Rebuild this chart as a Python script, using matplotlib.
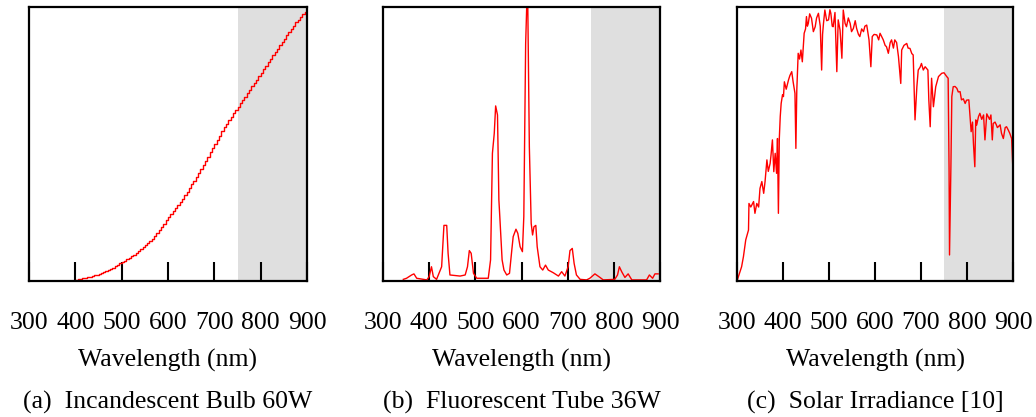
import numpy as np
from matplotlib import pyplot as plt

plt.rcParams['font.family'] = ['Liberation Serif', 'DejaVu Serif']

# incandescent bulb, relative power every 5 nm from 395 nm
bulb_nm = np.arange(395, 901, 5)
bulb_val = [0.0, 0.004, 0.006, 0.008, 0.010, 0.012, 0.014, 0.016, 0.018, 0.021,
            0.023, 0.026, 0.029, 0.032, 0.036, 0.040, 0.044, 0.049, 0.054, 0.059,
            0.064, 0.068, 0.073, 0.079, 0.085, 0.090, 0.096, 0.102, 0.109, 0.116,
            0.123, 0.130, 0.138, 0.146, 0.155, 0.165, 0.175, 0.185, 0.196, 0.208,
            0.221, 0.234, 0.246, 0.257, 0.268, 0.279, 0.290, 0.301, 0.313, 0.326,
            0.339, 0.353, 0.366, 0.380, 0.393, 0.407, 0.422, 0.438, 0.454, 0.470,
            0.485, 0.500, 0.515, 0.530, 0.546, 0.561, 0.574, 0.587, 0.599, 0.612,
            0.624, 0.636, 0.648, 0.661, 0.673, 0.686, 0.698, 0.711, 0.723, 0.735,
            0.748, 0.760, 0.773, 0.786, 0.799, 0.811, 0.823, 0.836, 0.848, 0.860,
            0.872, 0.884, 0.896, 0.908, 0.920, 0.932, 0.944, 0.954, 0.964, 0.973,
            0.982, 0.990]

# fluorescent tube
tube_nm = [344, 351, 362, 367, 373, 395, 400, 405, 409, 416, 427, 432, 438, 441, 445, 467,
           478, 483, 487, 491, 496, 503, 528, 533, 537, 541, 544, 548, 551, 553, 558, 562,
           568, 574, 579, 582, 588, 592, 597, 602, 605, 609, 613, 617, 621, 624, 627, 631,
           634, 640, 646, 652, 658, 669, 680, 687, 694, 701, 705, 710, 714, 719, 727, 741,
           748, 759, 770, 777, 802, 808, 812, 817, 824, 831, 839, 871, 877, 884, 889, 896]
tube_val = [0.006, 0.01, 0.022, 0.026, 0.01, 0.004, 0.016, 0.052, 0.016, 0.006, 0.052, 0.203,
            0.203, 0.101, 0.022, 0.018, 0.022, 0.052, 0.111, 0.101, 0.028, 0.01, 0.01, 0.077,
            0.466, 0.539, 0.639, 0.606, 0.296, 0.235, 0.077, 0.04, 0.022, 0.028, 0.113, 0.162,
            0.189, 0.174, 0.125, 0.107, 0.235, 0.867, 1.1, 0.49, 0.21, 0.168, 0.198, 0.203,
            0.125, 0.052, 0.04, 0.058, 0.04, 0.03, 0.018, 0.034, 0.018, 0.052, 0.111, 0.119,
            0.064, 0.022, 0.006, 0.004, 0.01, 0.026, 0.013, 0.004, 0.006, 0.022, 0.052, 0.034,
            0.013, 0.026, 0.004, 0.004, 0.022, 0.01, 0.026, 0.026]

# solar irradiance
sun_nm = [300, 303, 310, 314, 319, 325, 326, 330, 336, 339,
          343, 347, 350, 354, 358, 361, 365, 368, 372, 374,
          377, 380, 383, 386, 388, 390, 392, 394, 396, 399,
          401, 403, 407, 412, 415, 419, 422, 426, 428, 430,
          432, 433, 436, 439, 442, 446, 449, 451, 453, 455,
          458, 462, 466, 470, 473, 477, 481, 484, 486, 488,
          491, 495, 499, 502, 504, 507, 509, 513, 517, 520,
          524, 528, 531, 535, 538, 542, 546, 549, 553, 557,
          560, 564, 567, 571, 575, 578, 582, 587, 591, 594,
          598, 604, 608, 611, 615, 618, 622, 625, 629, 633,
          636, 640, 643, 647, 651, 656, 658, 663, 669, 672,
          676, 680, 683, 687, 691, 694, 698, 701, 705, 709,
          715, 717, 720, 723, 727, 732, 738, 745, 750, 756,
          759, 761, 762, 765, 767, 770, 774, 778, 781, 785,
          788, 792, 796, 799, 804, 809, 812, 814, 817, 819,
          821, 825, 828, 832, 836, 839, 843, 846, 849, 852,
          855, 857, 861, 864, 866, 868, 872, 875, 879, 883,
          886, 890, 893, 897, 900]
sun_val = [0.0, 0.016, 0.052, 0.089, 0.15, 0.186, 0.283, 0.27, 0.29, 0.247,
           0.283, 0.27, 0.338, 0.363, 0.32, 0.363, 0.442, 0.4, 0.429, 0.46,
           0.515, 0.399, 0.466, 0.393, 0.52, 0.247, 0.521, 0.6, 0.648, 0.68,
           0.673, 0.727, 0.7, 0.734, 0.75, 0.764, 0.727, 0.685, 0.484, 0.697,
           0.78, 0.831, 0.81, 0.843, 0.8, 0.904, 0.92, 0.965, 0.93, 0.94,
           0.975, 0.959, 0.91, 0.928, 0.96, 0.977, 0.93, 0.77, 0.9, 0.94,
           0.989, 0.95, 0.953, 0.99, 0.977, 0.93, 0.928, 0.98, 0.764, 0.953,
           0.916, 0.813, 0.989, 0.94, 0.928, 0.96, 0.94, 0.91, 0.922, 0.95,
           0.922, 0.9, 0.892, 0.92, 0.91, 0.93, 0.934, 0.88, 0.782, 0.892,
           0.9, 0.898, 0.88, 0.904, 0.89, 0.88, 0.86, 0.855, 0.831, 0.87,
           0.88, 0.85, 0.88, 0.87, 0.819, 0.721, 0.843, 0.86, 0.867, 0.85,
           0.849, 0.83, 0.825, 0.588, 0.709, 0.77, 0.78, 0.794, 0.77, 0.782,
           0.77, 0.661, 0.563, 0.74, 0.636, 0.709, 0.746, 0.758, 0.76, 0.746,
           0.74, 0.411, 0.095, 0.417, 0.673, 0.709, 0.71, 0.703, 0.69, 0.691,
           0.661, 0.665, 0.648, 0.66, 0.661, 0.545, 0.58, 0.502, 0.417, 0.588,
           0.569, 0.6, 0.612, 0.59, 0.606, 0.515, 0.61, 0.6, 0.59, 0.606,
           0.515, 0.575, 0.58, 0.569, 0.56, 0.563, 0.57, 0.539, 0.52, 0.56,
           0.563, 0.55, 0.539, 0.52, 0.399]

ticks = [300, 400, 500, 600, 700, 800, 900]
captions = ['(a)  Incandescent Bulb 60W', '(b)  Fluorescent Tube 36W', '(c)  Solar Irradiance [10]']
series = [(bulb_nm, bulb_val, 'steps-post'), (tube_nm, tube_val, 'default'),
          (sun_nm, sun_val, 'default')]
lefts = [29, 383, 737]
widths = [278, 277, 276]

W, H = 1036, 417
fig = plt.figure(figsize=(W / 100, H / 100), dpi=100)

for (x, y, style), left, width, cap in zip(series, lefts, widths, captions):
    ax = fig.add_axes([left / W, (H - 281) / H, width / W, 274 / H])
    ax.axvspan(750, 900, color='#dfdfdf', lw=0, zorder=0)
    ax.plot(x, y, color='red', lw=1.0, drawstyle=style, zorder=2)
    ax.set_xlim(300, 900)
    ax.set_ylim(0, 1)
    ax.set_xticks(ticks)
    ax.set_yticks([])
    ax.tick_params(axis='x', direction='in', length=13.5, width=1.5, color='black',
                   pad=22.5, labelsize=18.5)
    for s in ax.spines.values():
        s.set_linewidth(1.6)
    ax.set_xlabel('Wavelength (nm)', fontsize=18.5)
    ax.xaxis.label.set_va('center')
    ax.xaxis.set_label_coords(0.5, -(360 - 281) / 274)
    fig.text((left + width / 2) / W, (H - 402) / H, cap, ha='center', va='center',
             fontsize=18.5)

fig.savefig('out.png', dpi=100)
